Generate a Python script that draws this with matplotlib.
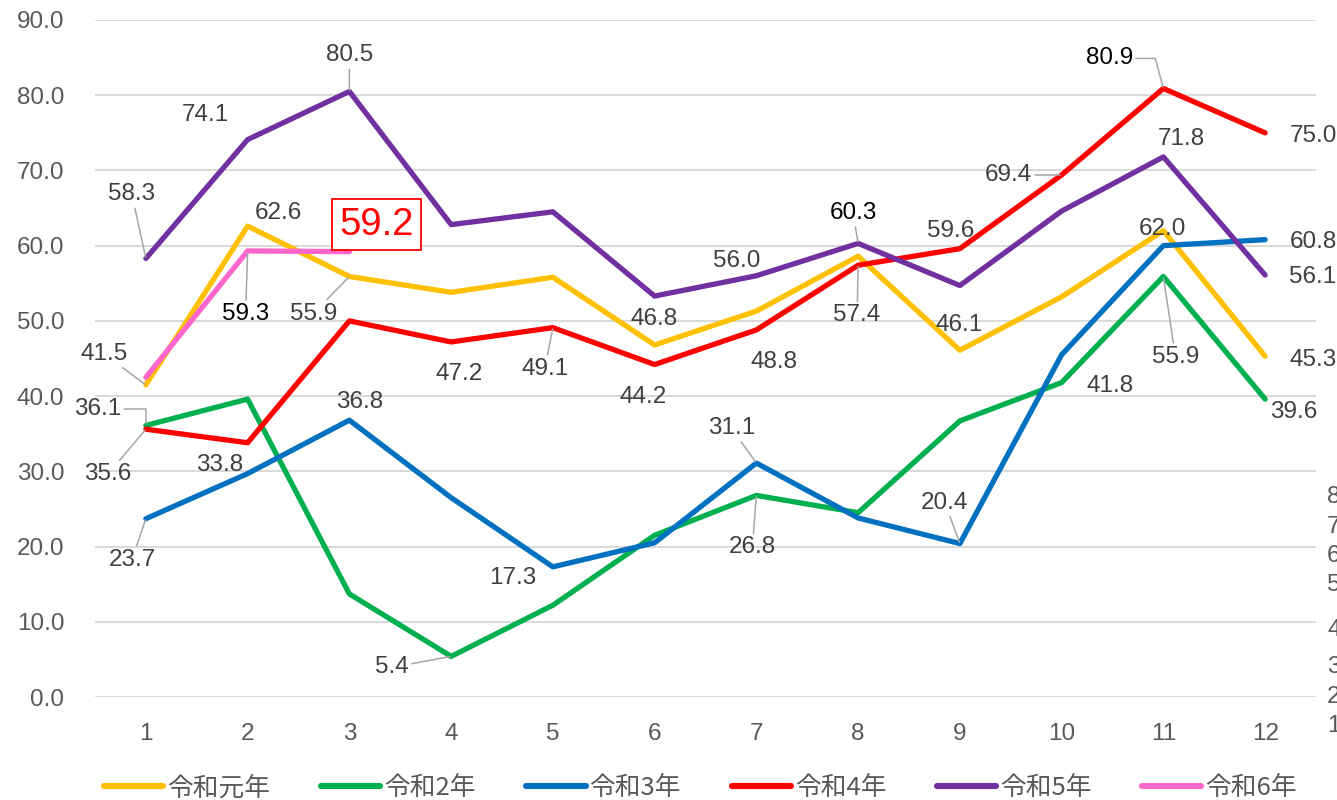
import matplotlib
matplotlib.use("Agg")
import matplotlib.pyplot as plt

# monthly values per year
months = [1, 2, 3, 4, 5, 6, 7, 8, 9, 10, 11, 12]
r1 = [41.5, 62.6, 55.9, 53.8, 55.8, 46.8, 51.3, 58.6, 46.1, 53.2, 62.0, 45.3]
r2 = [36.1, 39.6, 13.7, 5.4, 12.2, 21.5, 26.8, 24.5, 36.7, 41.8, 55.9, 39.6]
r3 = [23.7, 29.7, 36.8, 26.5, 17.3, 20.5, 31.1, 23.8, 20.4, 45.5, 60.0, 60.8]
r4 = [35.6, 33.8, 50.0, 47.2, 49.1, 44.2, 48.8, 57.4, 59.6, 69.4, 80.9, 75.0]
r5 = [58.3, 74.1, 80.5, 62.8, 64.5, 53.3, 56.0, 60.3, 54.7, 64.6, 71.8, 56.1]
r6 = [42.5, 59.3, 59.2]

names = ["令和元年", "令和2年", "令和3年", "令和4年", "令和5年", "令和6年"]
series = [r1, r2, r3, r4, r5, r6]
colors = ["#FFC000", "#00B050", "#0070C0", "#FF0000", "#7030A0", "#FF66CC"]

yticks = [0, 10, 20, 30, 40, 50, 60, 70, 80, 90]
# first characters of the neighbouring axis that peek in at the right edge
edge_ticks = ["8", "7", "6", "5", "4", "3", "2", "1"]
edge_tick_y = [497, 527, 556, 585, 630, 667, 697, 726]

# labels: series index -> {month: (dx, dy, leader)}, offsets in pixels
label_pos = {
    0: {1: (-42, 33, "line"), 2: (31, 15, None), 3: (-36, -35, "line"),
        6: (-1, 28, None), 9: (-1, 27, None), 11: (-1, 4, None), 12: (48, -2, None)},
    1: {1: (-48, 18, "elbow"), 4: (-59, -9, "line"), 7: (-4, -50, "line"),
        10: (48, -1, None), 11: (12, -78, "line"), 12: (29, -11, None)},
    2: {1: (-14, -39, "line"), 3: (10, 20, None), 5: (-40, -9, None),
        7: (-25, 37, "line"), 9: (-15, 43, "line"), 12: (48, 0, None)},
    3: {1: (-38, -43, "line"), 2: (-28, -20, None), 4: (8, -30, None),
        5: (-8, -39, "line"), 6: (-11, -30, None), 7: (18, -30, None),
        8: (-1, -48, "line"), 9: (-9, 20, None), 10: (-53, 2, "line"),
        11: (-54, 32, "elbow2"), 12: (48, -1, None)},
    4: {1: (-14, 66, "line"), 2: (-42, 27, None), 3: (0, 38, "line"),
        7: (-20, 17, None), 8: (-5, 32, "line"), 11: (18, 20, None),
        12: (48, 0, None)},
    5: {2: (-2, -61, "line")},
}
black_labels = {(5, 2), (4, 8), (3, 11)}

W, H = 1337, 800
fig = plt.figure(figsize=(W / 100, H / 100), dpi=100)
ax = fig.add_axes([95 / W, 1 - 697 / H, (1316 - 95) / W, (697 - 20) / H])

num_font = "Liberation Sans"
cjk_font = ["Noto Sans CJK JP", "Liberation Sans"]

for vals, name, c in zip(series, names, colors):
    ax.plot(months[:len(vals)], vals, color=c, lw=3.8, label=name,
            solid_capstyle="round", solid_joinstyle="round")

ax.set_xlim(0.5, 12.5)
ax.set_ylim(0, 90)
ax.set_yticks(yticks)
ax.set_yticklabels([f"{t:.1f}" for t in yticks])
ax.set_xticks(months)
ax.set_xticklabels([str(m) for m in months])
ax.grid(axis="y", color="#D9D9D9", lw=1.4)
ax.set_axisbelow(True)
for s in ax.spines.values():
    s.set_visible(False)
ax.tick_params(axis="y", length=0, pad=22, labelsize=17.5, labelcolor="#595959")
ax.tick_params(axis="x", length=0, pad=19, labelsize=17.5, labelcolor="#595959")
for lab in ax.get_xticklabels() + ax.get_yticklabels():
    lab.set_fontfamily(num_font)

# data labels
for si, entries in label_pos.items():
    vals = series[si]
    for m, (dx, dy, leader) in entries.items():
        v = vals[m - 1]
        col = "black" if (si, m) in black_labels else "#404040"
        arrow = None
        if leader == "line":
            arrow = dict(arrowstyle="-", color="#A6A6A6", lw=1.1, shrinkA=0, shrinkB=1)
        elif leader == "elbow":
            arrow = dict(arrowstyle="-", color="#A6A6A6", lw=1.1, shrinkA=0, shrinkB=1,
                         connectionstyle="angle,angleA=0,angleB=90,rad=0")
        elif leader == "elbow2":
            arrow = dict(arrowstyle="-", color="#A6A6A6", lw=1.1, shrinkA=0, shrinkB=1,
                         connectionstyle="angle,angleA=0,angleB=105,rad=0")
        ax.annotate(f"{v:.1f}", xy=(m, v), xytext=(dx, dy - 2),
                    textcoords="offset pixels", ha="center", va="center",
                    fontsize=17.5, color=col, family=num_font,
                    arrowprops=arrow, annotation_clip=False)

# latest month highlighted in a box
ax.annotate(f"{r6[2]:.1f}", xy=(3, r6[2]), xytext=(27, 27),
            textcoords="offset pixels", ha="center", va="center",
            fontsize=27.5, color="#FF0000", family=num_font,
            bbox=dict(boxstyle="square,pad=0.2", fc="white", ec="#FF0000", lw=1.3))

leg = ax.legend(loc="center", bbox_to_anchor=(0.496, -0.135), ncol=6, frameon=False,
                handlelength=2.3, handletextpad=0.15, columnspacing=1.98,
                prop={"family": cjk_font, "size": 18.5})
for t in leg.get_texts():
    t.set_color("#595959")
for h in leg.get_lines():
    h.set_linewidth(4.4)
    h.set_solid_capstyle("round")

for t, y in zip(edge_ticks, edge_tick_y):
    fig.text(1327 / W, 1 - y / H, t, ha="left", va="center", fontsize=17.5,
             color="#595959", family=num_font)

fig.savefig("out.png", dpi=100)
